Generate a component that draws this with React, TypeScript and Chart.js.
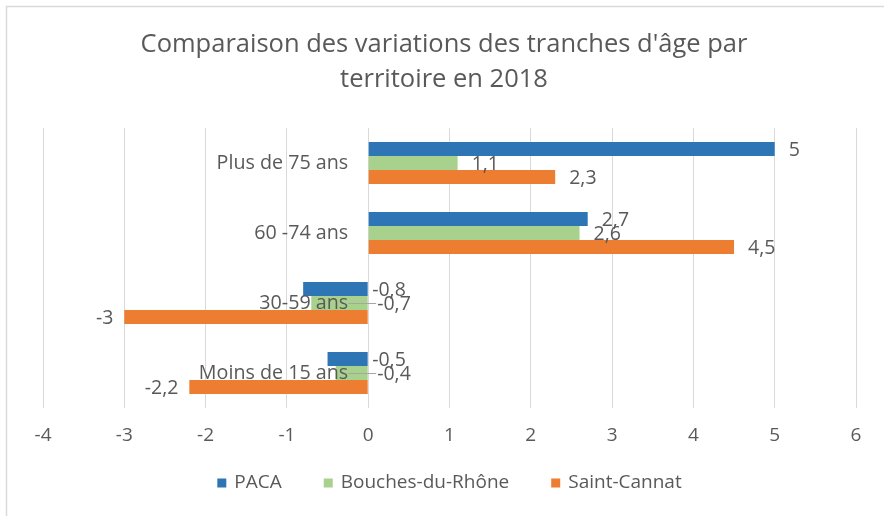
import React, { useEffect, useRef } from "react";
import { Chart, registerables } from "chart.js";

Chart.register(...registerables);

const TITLE_LINES = ["Comparaison des variations des tranches d'âge par", "territoire en 2018"];
const CATEGORIES = ["Plus de 75 ans", "60 -74 ans", "30-59 ans", "Moins de 15 ans"];
const SERIES_NAMES = ["PACA", "Bouches-du-Rhône", "Saint-Cannat"];
const PACA = [5, 2.7, -0.8, -0.5];
const BOUCHES_DU_RHONE = [1.1, 2.6, -0.7, -0.4];
const SAINT_CANNAT = [2.3, 4.5, -3, -2.2];
const X_MIN = -4;
const X_MAX = 6;

const COLORS = ["#2E75B6", "#A9D18E", "#ED7D31"];
const FONT = "'Open Sans', sans-serif";
const TEXT = "#595959";
const GRID = "#D9D9D9";

const decor = {
  id: "decor",
  beforeDraw(chart: any) {
    const ctx = chart.ctx;
    const area = chart.chartArea;
    ctx.save();
    ctx.fillStyle = "#ffffff";
    ctx.fillRect(0, 0, chart.width, chart.height);
    // border (top-left visible)
    ctx.strokeStyle = GRID;
    ctx.lineWidth = 1.5;
    ctx.beginPath();
    ctx.moveTo(6.5, chart.height);
    ctx.lineTo(6.5, 6.5);
    ctx.lineTo(chart.width, 6.5);
    ctx.stroke();
    // title
    ctx.fillStyle = TEXT;
    ctx.font = `25.5px ${FONT}`;
    ctx.textAlign = "center";
    ctx.textBaseline = "middle";
    ctx.fillText(TITLE_LINES[0], 444, 45);
    ctx.fillText(TITLE_LINES[1], 444, 80);
    // legend
    ctx.font = `19px ${FONT}`;
    const box = 9, gapBox = 8, gapItem = 42;
    const widths = SERIES_NAMES.map((n) => ctx.measureText(n).width);
    const total = widths.reduce((a, w) => a + box + gapBox + w, 0) + gapItem * (SERIES_NAMES.length - 1);
    let x = (area.left + area.right) / 2 - total / 2;
    const ly = 483;
    ctx.textAlign = "left";
    SERIES_NAMES.forEach((n, i) => {
      ctx.fillStyle = COLORS[i];
      ctx.fillRect(x, ly - box / 2, box, box);
      x += box + gapBox;
      ctx.fillStyle = TEXT;
      ctx.fillText(n, x, ly);
      x += widths[i] + gapItem;
    });
    ctx.restore();
  },
  afterDatasetsDraw(chart: any) {
    const ctx = chart.ctx;
    const xs = chart.scales.x;
    const ys = chart.scales.y;
    const x0 = xs.getPixelForValue(0);
    ctx.save();
    ctx.textBaseline = "middle";
    // leader lines
    chart.data.datasets.forEach((ds: any, di: number) => {
      const meta = chart.getDatasetMeta(di);
      meta.data.forEach((bar: any, i: number) => {
        const v = ds.data[i];
        if (v < 0 && v > -1 && di === 1) {
          ctx.strokeStyle = "#A6A6A6";
          ctx.lineWidth = 1;
          ctx.beginPath();
          ctx.moveTo(x0 - 20, Math.round(bar.y) + 0.5);
          ctx.lineTo(x0 + 8, Math.round(bar.y) + 0.5);
          ctx.stroke();
        }
      });
    });
    // category labels
    ctx.font = `19.7px ${FONT}`;
    ctx.fillStyle = TEXT;
    ctx.textAlign = "right";
    CATEGORIES.forEach((c, i) => {
      ctx.fillText(c, x0 - 20, ys.getPixelForValue(i));
    });
    // data labels
    ctx.font = `19.5px ${FONT}`;
    chart.data.datasets.forEach((ds: any, di: number) => {
      const meta = chart.getDatasetMeta(di);
      meta.data.forEach((bar: any, i: number) => {
        const v = ds.data[i];
        const txt = String(v).replace(".", ",");
        if (v >= 0) {
          ctx.textAlign = "left";
          ctx.fillText(txt, bar.x + 14, bar.y + 1);
        } else if (v <= -1) {
          ctx.textAlign = "right";
          ctx.fillText(txt, bar.x - 11, bar.y + 1);
        } else {
          ctx.textAlign = "left";
          ctx.fillText(txt, x0 + (di === 1 ? 9 : 4), bar.y + 1);
        }
      });
    });
    ctx.restore();
  },
};

export default function App() {
  const ref = useRef<HTMLCanvasElement>(null);
  useEffect(() => {
    if (!ref.current) return;
    const chart = new Chart(ref.current, {
      type: "bar",
      data: {
        labels: CATEGORIES,
        datasets: [
          { label: SERIES_NAMES[0], data: PACA, backgroundColor: COLORS[0] },
          { label: SERIES_NAMES[1], data: BOUCHES_DU_RHONE, backgroundColor: COLORS[1] },
          { label: SERIES_NAMES[2], data: SAINT_CANNAT, backgroundColor: COLORS[2] },
        ],
      },
      options: {
        indexAxis: "y",
        animation: false,
        responsive: false,
        layout: { padding: { left: 43, right: 28, top: 128, bottom: 0 } },
        plugins: {
          legend: { display: false },
          title: { display: false },
          tooltip: { enabled: false },
        },
        datasets: { bar: { categoryPercentage: 0.6, barPercentage: 1 } } as any,
        scales: {
          x: {
            min: X_MIN,
            max: X_MAX,
            ticks: {
              stepSize: 1,
              color: TEXT,
              font: { family: FONT, size: 19 },
              padding: 16,
              callback: (v: any) => String(v),
            },
            grid: { color: GRID, drawTicks: false },
            border: { display: false },
            afterFit: (s: any) => {
              s.height = 108;
            },
          },
          y: { display: false },
        },
      } as any,
      plugins: [decor],
    });
    return () => chart.destroy();
  }, []);
  return (
    <div style={{ position: "fixed", left: 0, top: 0, width: 884, height: 516 }}>
      <canvas ref={ref} width={884} height={516} />
    </div>
  );
}
